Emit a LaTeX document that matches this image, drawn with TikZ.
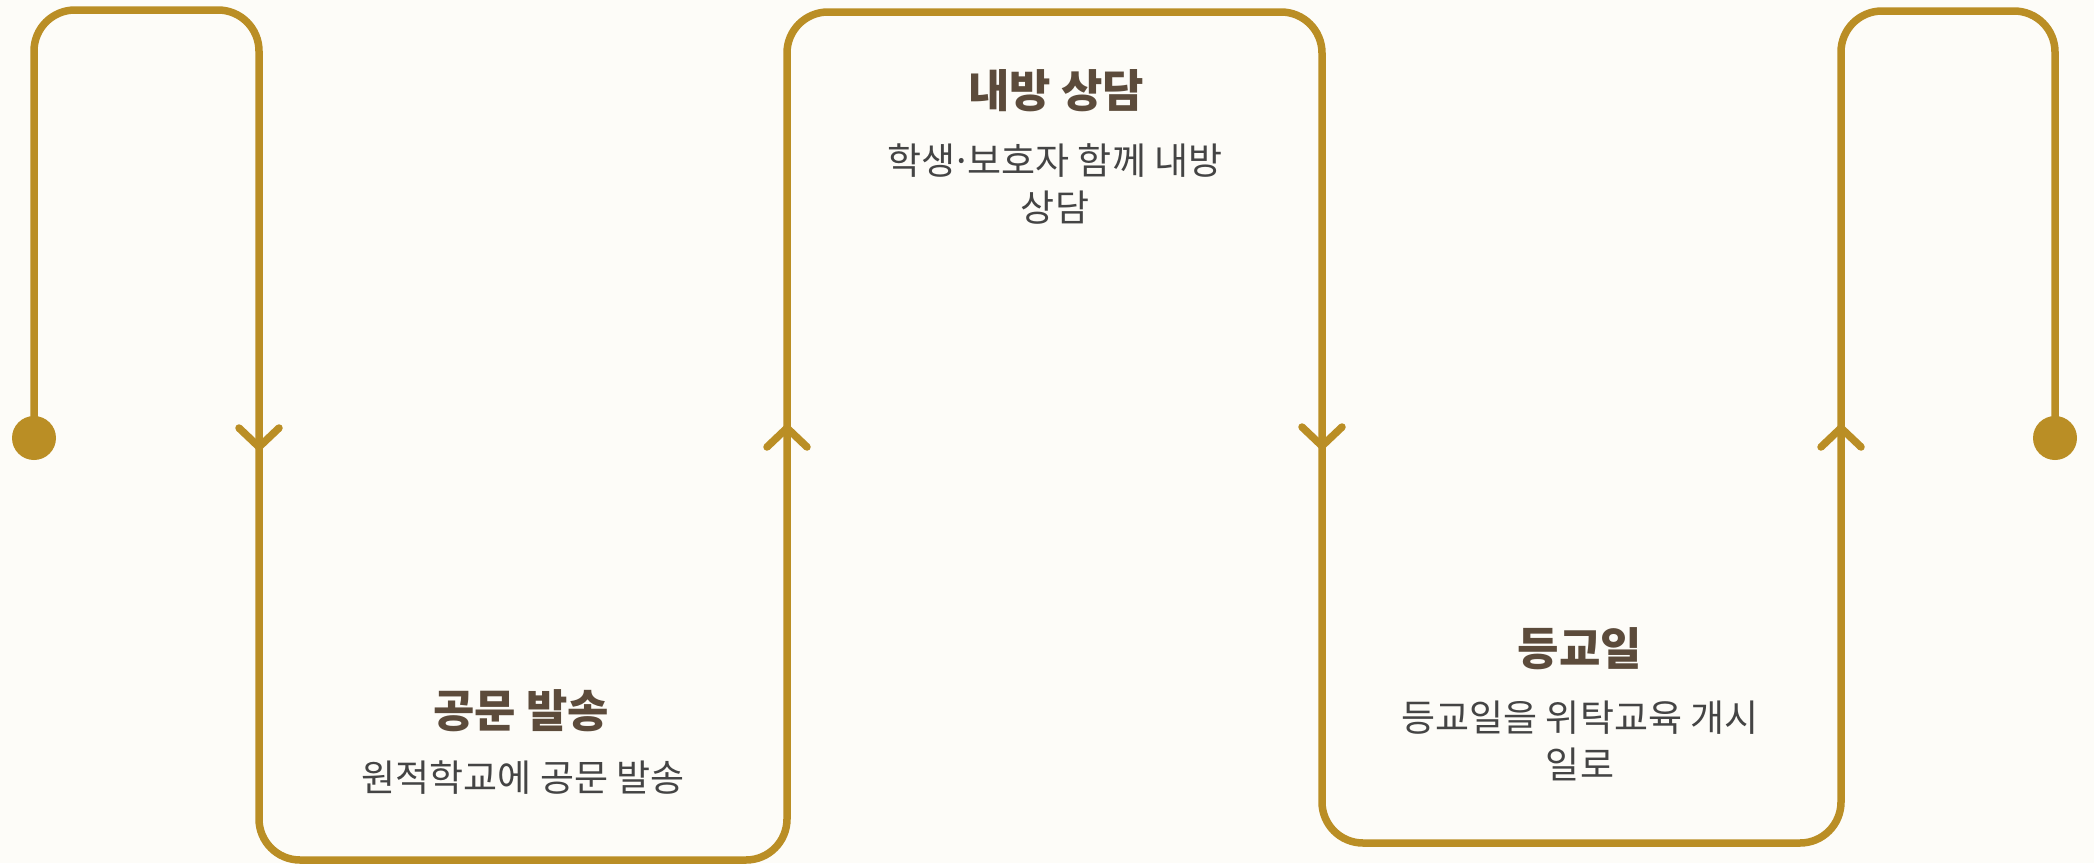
\documentclass[tikz,border=0pt]{standalone}
\usepackage{fontspec}
\setmainfont{Noto Sans CJK KR}
\usetikzlibrary{positioning}
\definecolor{gold}{HTML}{BA8E25}
\definecolor{titlebrown}{HTML}{5C4B3B}
\definecolor{bodygray}{HTML}{444444}
\definecolor{paper}{HTML}{FDFCF8}
\tikzset{
  track/.style={draw=gold, line width=3.75pt, rounded corners=20.5pt, line join=round},
  chevron/.style={draw=gold, line width=3.75pt, line cap=round, line join=miter},
  enddot/.style={circle, fill=gold, inner sep=0pt, minimum size=22pt},
  steptitle/.style={font=\bfseries\fontsize{22.5}{27}\selectfont, text=titlebrown},
  stepnote/.style={font=\fontsize{18.5}{23.5}\selectfont, text=bodygray, align=center},
}

\begin{document}
\begin{tikzpicture}[x=0.5pt,y=-0.5pt]
        \fill[paper] (0,0) rectangle (2094,863);
        \useasboundingbox (0,0) rectangle (2094,863);
        % corners of the track
        \coordinate (c1) at (34,10);
        \coordinate (c2) at (259,10);
        \coordinate (c3) at (259,860);
        \coordinate (c4) at (787,860);
        \coordinate (c5) at (787,12);
        \coordinate (c6) at (1322,12);
        \coordinate (c7) at (1322,843);
        \coordinate (c8) at (1841,843);
        \coordinate (c9) at (1841,11);
        \coordinate (c10) at (2055,11);
        % arrow tips
        \coordinate (a1) at (259,447);
        \coordinate (a2) at (787,428);
        \coordinate (a3) at (1322,446);
        \coordinate (a4) at (1841,428);
        \node [enddot] (start) at (34,438) {};
        \node [enddot] (stop) at (2055,438) {};
        \draw[track] (start.center) -- (c1) -- (c2) -- (c3) -- (c4) -- (c5) -- (c6)
            -- (c7) -- (c8) -- (c9) -- (c10) -- (stop.center);
        \draw[chevron] ([shift={(-20,-19)}]a1) -- (a1) -- ([shift={(20,-19)}]a1);
        \draw[chevron] ([shift={(-20,19)}]a2) -- (a2) -- ([shift={(20,19)}]a2);
        \draw[chevron] ([shift={(-20,-19)}]a3) -- (a3) -- ([shift={(20,-19)}]a3);
        \draw[chevron] ([shift={(-20,19)}]a4) -- (a4) -- ([shift={(20,19)}]a4);
        % steps
        \node [steptitle] (title1) at (521,711) {공문 발송};
        \node [stepnote] (note1) at (523,778) {원적학교에 공문 발송};
        \node [steptitle] (title2) at (1056,91) {내방 상담};
        \node [stepnote] (note2) at (1055,184) {학생\kern-0.12em·\kern-0.12em보호자 함께 내방\\상담};
        \node [steptitle] (title3) at (1580,649) {등교일};
        \node [stepnote] (note3) at (1580,741) {등교일을 위탁교육 개시\\일로};
      \end{tikzpicture}
\end{document}
